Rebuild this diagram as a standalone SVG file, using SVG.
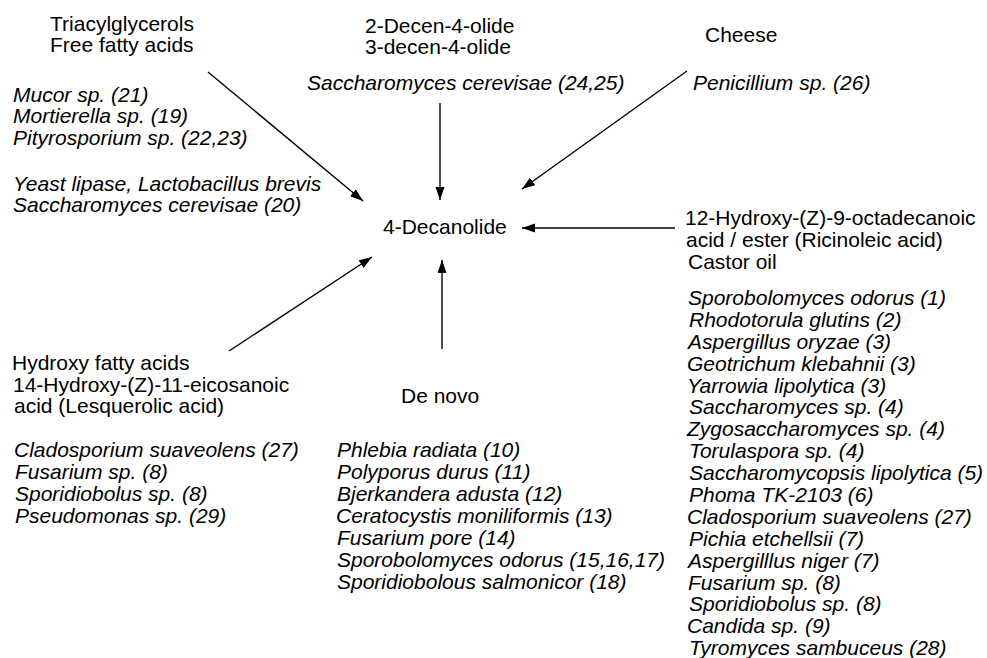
<svg xmlns="http://www.w3.org/2000/svg" width="987" height="658" viewBox="0 0 987 658">
<style>
text{font-family:"Liberation Sans",Arial,sans-serif;font-size:21px;fill:#000}
.i{font-style:italic}
.c{stroke:#000;stroke-width:1.4;fill:none;marker-end:url(#ah)}
</style>
<defs>
<marker id="ah" markerUnits="userSpaceOnUse" markerWidth="14" markerHeight="10" refX="13" refY="4.5" orient="auto">
<path d="M0,0 L13,4.5 L0,9 z" fill="#000"/>
</marker>
</defs>
<rect width="987" height="658" fill="#fff"/>
<g id="connectors">
<line class="c" x1="208" y1="72" x2="363" y2="201"/>
<line class="c" x1="440" y1="103" x2="440" y2="200"/>
<line class="c" x1="687" y1="71" x2="522" y2="189"/>
<line class="c" x1="675" y1="228" x2="522" y2="228"/>
<line class="c" x1="229" y1="351" x2="372" y2="257"/>
<line class="c" x1="442" y1="349" x2="442" y2="260"/>
</g>
<g id="center">
<text x="383" y="234">4-Decanolide</text>
</g>
<g id="triacylglycerols">
<text x="50" y="31">Triacylglycerols</text>
<text x="50" y="52">Free fatty acids</text>
<text class="i" x="13" y="102">Mucor sp. (21)</text>
<text class="i" x="13" y="123">Mortierella sp. (19)</text>
<text class="i" x="13" y="145">Pityrosporium sp. (22,23)</text>
<text class="i" x="13" y="191">Yeast lipase, Lactobacillus brevis</text>
<text class="i" x="13" y="212">Saccharomyces cerevisae (20)</text>
</g>
<g id="decenolide">
<text x="365" y="33">2-Decen-4-olide</text>
<text x="365" y="54">3-decen-4-olide</text>
<text class="i" x="307" y="90">Saccharomyces cerevisae (24,25)</text>
</g>
<g id="cheese">
<text x="705" y="42">Cheese</text>
<text class="i" x="693" y="90">Penicillium sp. (26)</text>
</g>
<g id="ricinoleic">
<text x="685" y="225">12-Hydroxy-(Z)-9-octadecanoic</text>
<text x="686" y="247">acid / ester (Ricinoleic acid)</text>
<text x="688" y="269">Castor oil</text>
<text class="i" x="688" y="305">Sporobolomyces odorus (1)</text>
<text class="i" x="689" y="327">Rhodotorula glutins (2)</text>
<text class="i" x="688" y="349">Aspergillus oryzae (3)</text>
<text class="i" x="687" y="371">Geotrichum klebahnii (3)</text>
<text class="i" x="687" y="393">Yarrowia lipolytica (3)</text>
<text class="i" x="689" y="414">Saccharomyces sp. (4)</text>
<text class="i" x="687" y="436">Zygosaccharomyces sp. (4)</text>
<text class="i" x="689" y="458">Torulaspora sp. (4)</text>
<text class="i" x="689" y="480">Saccharomycopsis lipolytica (5)</text>
<text class="i" x="689" y="502">Phoma TK-2103 (6)</text>
<text class="i" x="687" y="524">Cladosporium suaveolens (27)</text>
<text class="i" x="689" y="546">Pichia etchellsii (7)</text>
<text class="i" x="688" y="568">Aspergilllus niger (7)</text>
<text class="i" x="688" y="590">Fusarium sp. (8)</text>
<text class="i" x="689" y="611">Sporidiobolus sp. (8)</text>
<text class="i" x="687" y="633">Candida sp. (9)</text>
<text class="i" x="689" y="655">Tyromyces sambuceus (28)</text>
</g>
<g id="hydroxy">
<text x="12" y="370">Hydroxy fatty acids</text>
<text x="13" y="392">14-Hydroxy-(Z)-11-eicosanoic</text>
<text x="14" y="413">acid (Lesquerolic acid)</text>
<text class="i" x="14" y="457">Cladosporium suaveolens (27)</text>
<text class="i" x="15" y="479">Fusarium sp. (8)</text>
<text class="i" x="15" y="501">Sporidiobolus sp. (8)</text>
<text class="i" x="15" y="523">Pseudomonas sp. (29)</text>
</g>
<g id="denovo">
<text x="401" y="403">De novo</text>
<text class="i" x="337" y="457">Phlebia radiata (10)</text>
<text class="i" x="337" y="479">Polyporus durus (11)</text>
<text class="i" x="337" y="501">Bjerkandera adusta (12)</text>
<text class="i" x="336" y="523">Ceratocystis moniliformis (13)</text>
<text class="i" x="337" y="545">Fusarium pore (14)</text>
<text class="i" x="337" y="567">Sporobolomyces odorus (15,16,17)</text>
<text class="i" x="337" y="589">Sporidiobolous salmonicor (18)</text>
</g>
</svg>
